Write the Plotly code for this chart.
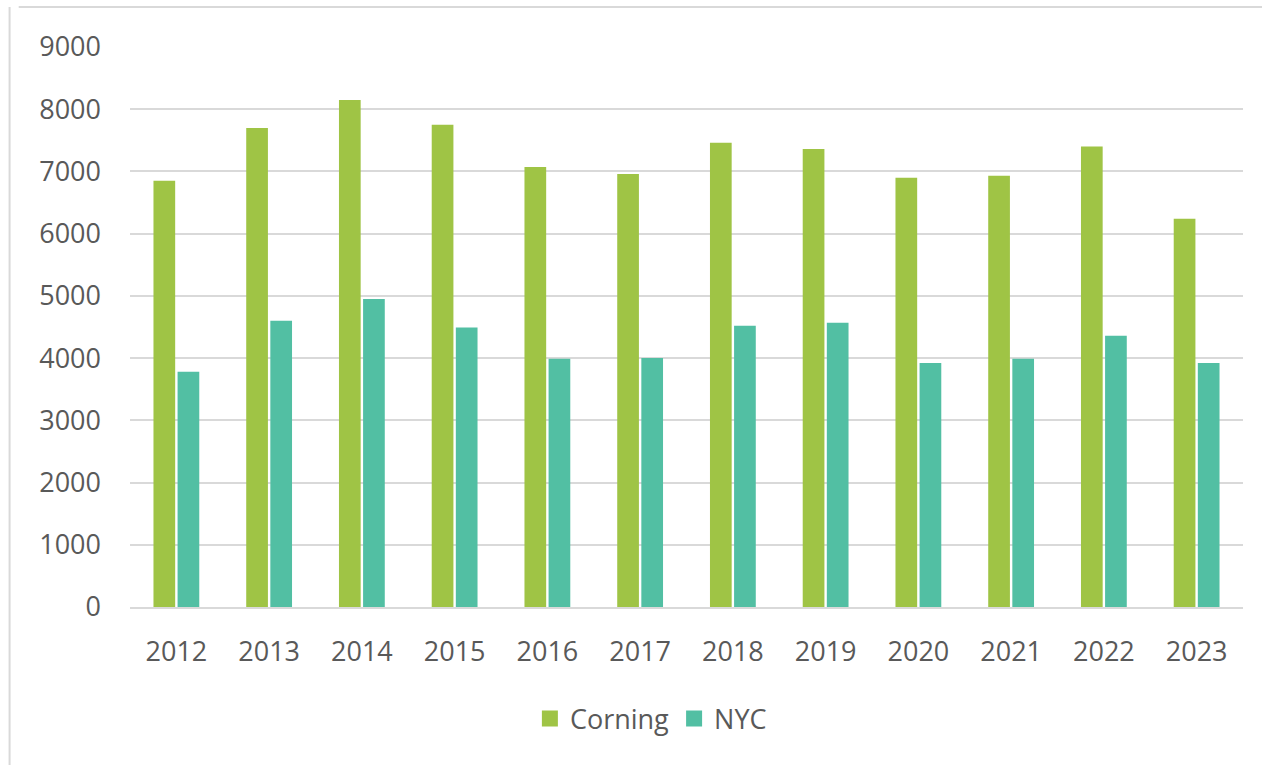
import plotly.graph_objects as go

years = ["2012", "2013", "2014", "2015", "2016", "2017", "2018", "2019", "2020", "2021", "2022", "2023"]
corning = [6850, 7700, 8150, 7750, 7070, 6960, 7460, 7360, 6900, 6930, 7400, 6240]
nyc = [3780, 4600, 4950, 4490, 3990, 4000, 4520, 4570, 3920, 3990, 4360, 3920]
y_ticks = [0, 1000, 2000, 3000, 4000, 5000, 6000, 7000, 8000, 9000]

font_family = "Open Sans, Inter, Liberation Sans, sans-serif"
text_color = "#595959"
fs = 27
c_corning = "#9fc445"
c_nyc = "#52bfa3"

fig = go.Figure()
fig.add_trace(go.Bar(x=years, y=corning, name="Corning", showlegend=False,
                     marker=dict(color=c_corning, line=dict(width=0))))
fig.add_trace(go.Bar(x=years, y=nyc, name="NYC", showlegend=False,
                     marker=dict(color=c_nyc, line=dict(width=0))))
# legend entries with larger square swatches
for name, col in [("Corning", c_corning), ("NYC", c_nyc)]:
    fig.add_trace(go.Scatter(x=[None], y=[None], mode="markers", name=name,
                             marker=dict(symbol="square", size=16, color=col)))

fig.update_layout(
    width=1262, height=765,
    margin=dict(l=130, r=19, t=47, b=158),
    paper_bgcolor="white", plot_bgcolor="white",
    barmode="group", bargap=0.48, bargroupgap=0.1,
    font=dict(family=font_family, color=text_color, size=fs),
    showlegend=True,
    legend=dict(orientation="h", x=0.468, xanchor="center", y=-0.2, yanchor="middle",
                font=dict(size=fs, color=text_color), itemwidth=30, traceorder="normal"),
    xaxis=dict(showgrid=False, showline=True, linecolor="#d9d9d9", linewidth=2,
               ticks="", ticklabelstandoff=20, tickfont=dict(size=fs, color=text_color)),
    yaxis=dict(range=[0, 9000], tickvals=y_ticks, showgrid=True, gridcolor="#d9d9d9", gridwidth=2,
               zeroline=False, showline=False, ticks="", ticklabelstandoff=28,
               tickfont=dict(size=fs, color=text_color)),
    shapes=[
        dict(type="line", xref="paper", yref="paper", x0=-0.1, x1=1.02, y0=1.0714, y1=1.0714,
             line=dict(color="#d9d9d9", width=2)),
        dict(type="line", xref="paper", yref="paper", x0=-0.1082, x1=-0.1082, y0=1.0714, y1=-0.3,
             line=dict(color="#d9d9d9", width=2)),
    ],
)

fig.write_html("out.html", config={"displayModeBar": False},
               post_script="document.body.style.margin='0';document.body.style.overflow='hidden';")
